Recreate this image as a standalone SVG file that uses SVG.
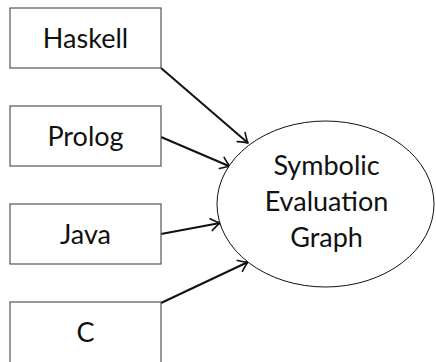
<svg xmlns="http://www.w3.org/2000/svg" width="436" height="362" viewBox="0 0 436 362">
<style>
.box{fill:#fff;stroke:#555;stroke-width:1.2}
.lbl{font-family:Lato,"Liberation Sans",sans-serif;font-size:27px;fill:#111;text-anchor:middle}
.edge{stroke:#111;stroke-width:2;fill:none}
.ell{fill:#fff;stroke:#111;stroke-width:1}
</style>
<defs>
<marker id="arr" markerUnits="userSpaceOnUse" markerWidth="20" markerHeight="20" refX="0" refY="0" viewBox="-12 -10 14 20" orient="auto" overflow="visible">
<path d="M -9,-6 Q -3,-1.5 0,0 Q -3,1.5 -9,6" fill="none" stroke="#111" stroke-width="1.6" stroke-linecap="round" stroke-linejoin="round"/>
</marker>
</defs>
<g id="connectors">
<line class="edge" x1="161" y1="68" x2="248" y2="143" marker-end="url(#arr)"/>
<line class="edge" x1="161" y1="137" x2="230" y2="166.5" marker-end="url(#arr)"/>
<line class="edge" x1="161" y1="234" x2="220" y2="223" marker-end="url(#arr)"/>
<line class="edge" x1="161" y1="303" x2="248" y2="262" marker-end="url(#arr)"/>
</g>
<g id="haskell"><rect class="box" x="10" y="8" width="151" height="60"/><text class="lbl" x="85.5" y="48">Haskell</text></g>
<g id="prolog"><rect class="box" x="10" y="106" width="151" height="60"/><text class="lbl" x="85.5" y="146">Prolog</text></g>
<g id="java"><rect class="box" x="10" y="204" width="151" height="60"/><text class="lbl" x="85.5" y="244">Java</text></g>
<g id="c"><rect class="box" x="10" y="302" width="151" height="70"/><text class="lbl" x="85.5" y="342">C</text></g>
<g id="seg"><ellipse class="ell" cx="325.5" cy="204" rx="108.5" ry="83"/>
<text class="lbl" x="326.5" y="175">Symbolic</text>
<text class="lbl" x="326.5" y="211">Evaluation</text>
<text class="lbl" x="326.5" y="247">Graph</text></g>
</svg>
